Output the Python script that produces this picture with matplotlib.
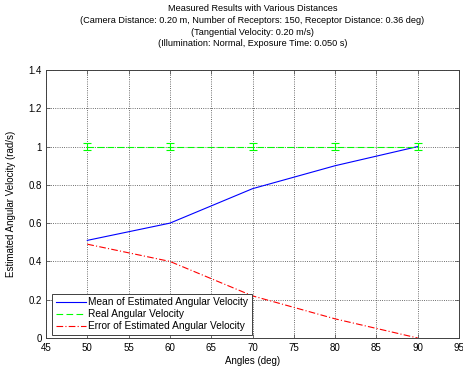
import matplotlib
matplotlib.use("Agg")
import matplotlib.pyplot as plt

angles = [50, 60, 70, 80, 90]
mean_vel = [0.51, 0.60, 0.78, 0.90, 1.00]
real_vel = [1.0, 1.0, 1.0, 1.0, 1.0]
real_err = [0.02, 0.02, 0.02, 0.02, 0.02]
err_vel = [0.49, 0.40, 0.22, 0.10, 0.00]

plt.rcParams['font.family'] = ['Liberation Sans', 'DejaVu Sans']
plt.rcParams['font.size'] = 7

W, H = 464, 370
fig = plt.figure(figsize=(W / 100, H / 100), dpi=100)
ax = fig.add_axes([46 / W, (H - 338) / H, (459 - 46) / W, (338 - 70) / H])

h1, = ax.plot(angles, mean_vel, color='#0000ff', lw=0.8, label='Mean of Estimated Angular Velocity')
ax.errorbar(angles, real_vel, yerr=real_err, color='#00ff00', lw=0.8, ls='none',
            capsize=3, elinewidth=0.8, capthick=0.8)
h2, = ax.plot(angles, real_vel, color='#00ff00', lw=0.8, ls=(0, (6, 3)), label='Real Angular Velocity')
h3, = ax.plot(angles, err_vel, color='#ff0000', lw=0.8, ls=(0, (6, 2, 1, 2)), label='Error of Estimated Angular Velocity')

ax.set_xlim(45, 95)
ax.set_ylim(0, 1.4)
ax.set_xticks(range(45, 96, 5))
ax.set_yticks([0, 0.2, 0.4, 0.6, 0.8, 1, 1.2, 1.4])
ax.set_yticklabels(['0', '0.2', '0.4', '0.6', '0.8', '1', '1.2', '1.4'])
ax.grid(True, ls=':', color='#404040', lw=0.6)
ax.tick_params(direction='in', length=3, width=0.5, labelsize=7, top=True, right=True,
               colors='#404040', labelcolor='black')
ax.tick_params(axis='y', pad=3)
ax.tick_params(axis='x', pad=3.5)
for s in ax.spines.values():
    s.set_linewidth(0.7)
    s.set_color('#404040')

ax.set_xlabel('Angles (deg)', fontsize=7, labelpad=2.5)
ax.set_ylabel('Estimated Angular Velocity (rad/s)', fontsize=7, labelpad=9)
ax.set_title('Measured Results with Various Distances\n'
             '(Camera Distance: 0.20 m, Number of Receptors: 150, Receptor Distance: 0.36 deg)\n'
             '(Tangential Velocity: 0.20 m/s)\n'
             '(Illumination: Normal, Exposure Time: 0.050 s)',
             fontsize=6.6, linespacing=1.38, pad=17)

leg = ax.legend(handles=[h1, h2, h3], loc='lower left', fontsize=7.3, fancybox=False, framealpha=1,
                edgecolor='#404040', bbox_to_anchor=(52 / W, (H - 335) / H),
                bbox_transform=fig.transFigure, borderaxespad=0, handlelength=3.0,
                handletextpad=0.2, labelspacing=0.2, borderpad=0.35)
leg.get_frame().set_linewidth(0.7)

fig.savefig('out.png', dpi=100)
